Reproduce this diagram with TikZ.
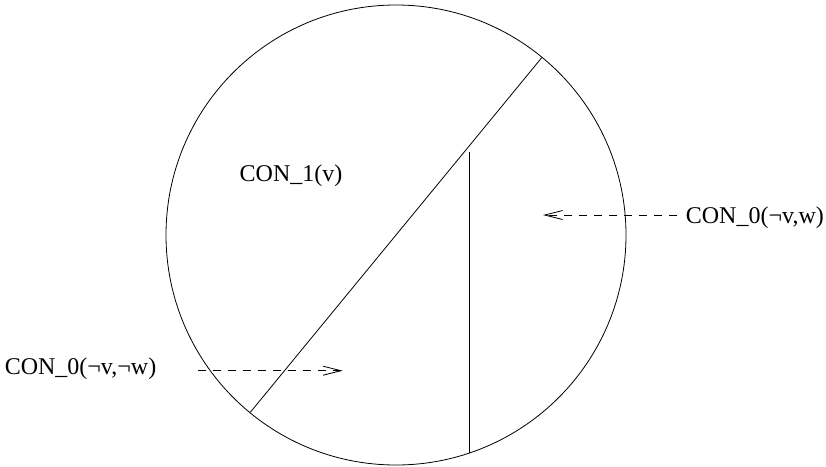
\documentclass[tikz,border=0pt]{standalone}
\usepackage{fontspec}
\setmainfont{Liberation Serif}
\usetikzlibrary{arrows.meta}
\tikzset{
  thin line/.style={line width=0.8pt, black},
  dasharrow/.style={line width=0.7pt, dash pattern=on 8pt off 7pt, -{Straight Barb[length=18pt,width=9pt,line width=0.8pt]}},
  lbl/.style={font=\fontsize{24}{28}\selectfont, inner sep=0pt}
}
\begin{document}
\begin{tikzpicture}[x=1pt,y=-1pt]
\useasboundingbox (0,0) rectangle (826,466);
\coordinate (c) at (396,235);
\draw[thin line] (c) circle (230pt);
\coordinate (dA) at (541.7,57.7);
\coordinate (dB) at (250.3,412.3);
\draw[thin line] (dA) -- (dB);
\coordinate (vt) at (469.3,151.7);
\coordinate (vb) at (469.3,453);
\draw[thin line] (vt) -- (vb);
\node[lbl, anchor=base west] (con1) at (239.5,181.5) {CON\_1(v)};
\node[lbl, anchor=base east] (con0l) at (156.5,374) {CON\_0(¬v,¬w)};
\node[lbl, anchor=base east] (con0r) at (824,223) {CON\_0(¬v,w)};
\coordinate (al1) at (197.7,370.7);
\coordinate (al2) at (342.7,370.7);
\draw[dasharrow] (al1) -- (al2);
\coordinate (ar1) at (677,215);
\coordinate (ar2) at (543,215);
\draw[dasharrow] (ar1) -- (ar2);
\end{tikzpicture}
\end{document}
